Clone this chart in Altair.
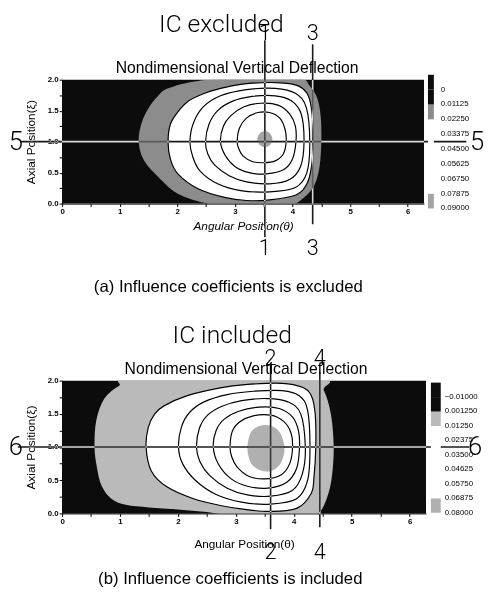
import altair as alt
import pandas as pd

TWO_PI = 6.2832
FONT = "Liberation Sans"
LIGHT = "Roboto"

X_TICKS = [0, 0.5, 1, 1.5, 2, 2.5, 3, 3.5, 4, 4.5, 5, 5.5, 6]
Y_TICKS = [0, 0.25, 0.5, 0.75, 1.0, 1.25, 1.5, 1.75, 2.0]

# ---------------- (a) influence coefficients excluded ----------------
# colour bar: bands of 0.01125, labelled 0 ... 0.09 (one unlabelled band above 0,
# one blank band below 0.09 so that 0.09 becomes a labelled boundary)
A_BAND_EXTENT = [-0.01125, 0.10125]
A_BAND_COLORS = ["#0c0c0c", "#0c0c0c", "#8c8c8c", "#ffffff", "#ffffff",
                 "#ffffff", "#ffffff", "#ffffff", "#a4a4a4", "#ffffff"]
A_VALUES = {"bg": -0.005, "band": 0.017, "plateau": 0.028, "centre": 0.085}
A_BAND = [(1.33, 1.0), (1.38, 1.3), (1.5, 1.54), (1.65, 1.72), (1.84, 1.86), (2.36, 1.98),
          (3.2, 2.03), (4.1, 2.03), (4.3, 1.9), (4.43, 1.7), (4.49, 1.4), (4.5, 1.0),
          (4.47, 0.6), (4.38, 0.3), (4.2, 0.1), (3.9, -0.03), (3.0, -0.03), (2.53, 0.0),
          (2.01, 0.16), (1.67, 0.43), (1.42, 0.7)]
A_C0 = [(1.84, 1.0), (1.88, 1.28), (2.01, 1.48), (2.2, 1.66), (2.5, 1.79), (2.85, 1.88),
        (3.25, 1.94), (3.8, 1.95), (4.1, 1.9), (4.27, 1.75), (4.34, 1.45), (4.36, 1.0),
        (4.33, 0.6), (4.25, 0.32), (4.06, 0.14), (3.6, 0.06), (3.2, 0.05), (2.82, 0.1),
        (2.36, 0.24), (2.01, 0.48), (1.88, 0.72)]
A_C1 = [(2.22, 1.0), (2.28, 1.3), (2.45, 1.56), (2.75, 1.74), (3.2, 1.84), (3.7, 1.86),
        (4.05, 1.78), (4.24, 1.55), (4.3, 1.0), (4.25, 0.5), (4.05, 0.26), (3.6, 0.19),
        (3.1, 0.21), (2.7, 0.32), (2.4, 0.52), (2.27, 0.75)]
A_C2 = [(2.49, 1.0), (2.55, 1.28), (2.7, 1.5), (2.95, 1.65), (3.3, 1.73), (3.7, 1.74),
        (3.98, 1.66), (4.15, 1.45), (4.2, 1.0), (4.14, 0.6), (3.95, 0.39), (3.6, 0.32),
        (3.2, 0.35), (2.9, 0.45), (2.65, 0.62), (2.53, 0.8)]
A_C3 = [(2.75, 1.0), (2.8, 1.25), (2.93, 1.42), (3.15, 1.56), (3.45, 1.62), (3.75, 1.59),
        (3.95, 1.45), (4.05, 1.25), (4.06, 1.0), (4.0, 0.72), (3.85, 0.55), (3.55, 0.48),
        (3.25, 0.5), (3.0, 0.6), (2.83, 0.78)]
A_C4 = [(3.04, 1.0), (3.08, 1.22), (3.2, 1.38), (3.4, 1.47), (3.6, 1.47), (3.78, 1.38),
        (3.87, 1.2), (3.89, 1.0), (3.84, 0.8), (3.7, 0.69), (3.5, 0.66), (3.3, 0.68),
        (3.14, 0.77), (3.07, 0.88)]
A_CENTRE = [(3.39, 1.04), (3.43, 1.13), (3.52, 1.17), (3.61, 1.13), (3.65, 1.04),
            (3.61, 0.95), (3.52, 0.91), (3.43, 0.95)]
A_SECTIONS = ["1", "3"]
A_SECTION_THETA = [3.52, 4.35]
A_SECTION_H = "5"
A_SECTION_XI = 1.0

# ---------------- (b) influence coefficients included ----------------
B_BAND_EXTENT = [-0.02125, 0.09125]
B_BAND_COLORS = ["#0c0c0c", "#0c0c0c", "#bababa", "#ffffff", "#ffffff",
                 "#ffffff", "#ffffff", "#ffffff", "#b0b0b0", "#ffffff"]
B_VALUES = {"bg": -0.015, "band": 0.007, "plateau": 0.02, "centre": 0.075}
B_BAND = [(0.56, 1.0), (0.59, 1.4), (0.73, 1.73), (0.98, 1.92), (1.3, 2.03), (4.35, 2.03),
          (4.52, 1.85), (4.64, 1.5), (4.69, 1.0), (4.65, 0.5), (4.55, 0.18), (4.42, 0.0),
          (4.2, -0.03), (3.0, -0.03), (2.5, 0.02), (2.0, 0.06), (1.5, 0.09), (1.1, 0.13),
          (0.85, 0.22), (0.68, 0.42), (0.6, 0.7)]
B_C0 = [(1.45, 1.0), (1.49, 1.3), (1.6, 1.5), (1.76, 1.62), (2.15, 1.77), (2.73, 1.89),
        (3.16, 1.94), (3.8, 1.96), (4.15, 1.9), (4.3, 1.78), (4.37, 1.5), (4.38, 1.0),
        (4.35, 0.55), (4.3, 0.3), (4.06, 0.08), (3.6, 0.03), (3.16, 0.06), (2.73, 0.12),
        (2.27, 0.22), (1.81, 0.4), (1.54, 0.64)]
B_C1 = [(2.01, 1.0), (2.06, 1.3), (2.2, 1.52), (2.45, 1.68), (2.85, 1.79), (3.3, 1.84),
        (3.8, 1.85), (4.1, 1.77), (4.24, 1.55), (4.28, 1.0), (4.24, 0.5), (4.05, 0.22),
        (3.6, 0.14), (3.1, 0.17), (2.65, 0.29), (2.3, 0.5), (2.08, 0.75)]
B_C2 = [(2.32, 1.0), (2.37, 1.28), (2.5, 1.47), (2.75, 1.61), (3.1, 1.7), (3.55, 1.73),
        (3.9, 1.68), (4.12, 1.5), (4.2, 1.0), (4.15, 0.6), (3.98, 0.35), (3.6, 0.26),
        (3.2, 0.28), (2.85, 0.38), (2.55, 0.57), (2.38, 0.78)]
B_C3 = [(2.61, 1.0), (2.66, 1.25), (2.8, 1.42), (3.05, 1.54), (3.4, 1.6), (3.75, 1.58),
        (3.98, 1.45), (4.08, 1.25), (4.1, 1.0), (4.05, 0.68), (3.88, 0.47), (3.55, 0.38),
        (3.2, 0.41), (2.92, 0.52), (2.7, 0.74)]
B_C4 = [(2.9, 1.0), (2.94, 1.24), (3.07, 1.38), (3.3, 1.47), (3.6, 1.48), (3.82, 1.39),
        (3.95, 1.22), (3.98, 1.0), (3.93, 0.75), (3.78, 0.58), (3.5, 0.52), (3.22, 0.56),
        (3.02, 0.7), (2.93, 0.85)]
B_CENTRE = [(3.2, 0.98), (3.26, 1.22), (3.42, 1.32), (3.6, 1.32), (3.76, 1.22), (3.84, 0.98),
            (3.77, 0.75), (3.6, 0.64), (3.42, 0.65), (3.26, 0.76)]
B_SECTIONS = ["2", "4"]
B_SECTION_THETA = [3.6, 4.45]
B_SECTION_H = "6"
B_SECTION_XI = 1.0


def shape(pts, name, value=0.0):
    # colour field stored negated so that the vertical colour bar runs low-to-high downwards
    return pd.DataFrame({
        "theta": [p[0] for p in pts],
        "xi": [p[1] for p in pts],
        "order": list(range(len(pts))),
        "region": name,
        "nv": -value,
    })


def panel(d, lay):
    xs = alt.Scale(domain=[0, TWO_PI], nice=False, zero=False)
    ys = alt.Scale(domain=[0, 2], nice=False, zero=False)
    xaxis = alt.Axis(values=X_TICKS,
                     labelExpr="datum.value % 1 == 0 ? format(datum.value, 'd') : ''",
                     title="Angular Position(θ)", titleFont=FONT, titleFontSize=12,
                     titleFontWeight="normal", titleFontStyle=lay["xtitle_style"],
                     titlePadding=lay["xtitle_pad"], titleColor="black",
                     labelFont=FONT, labelFontSize=8, labelFontWeight="bold", labelColor="black",
                     labelFlush=False, labelPadding=1, tickSize=3, tickColor="black",
                     domainColor="black", grid=False)
    yaxis = alt.Axis(values=Y_TICKS,
                     labelExpr="datum.value % 0.5 == 0 ? format(datum.value, '.1f') : ''",
                     title="Axial Position(ξ)", titleFont=FONT, titleFontSize=12,
                     titleFontWeight="normal", titlePadding=10, titleColor="black",
                     labelFont=FONT, labelFontSize=8, labelFontWeight="bold", labelColor="black",
                     labelFlush=False, labelPadding=1, tickSize=3, tickColor="black",
                     domainColor="black", grid=False)
    lo, hi = d["extent"]
    fs = alt.Scale(type="quantize", domain=[-hi, -lo], range=d["colors"][::-1], nice=False, zero=False)
    leg = alt.Legend(type="gradient", orient="none", legendX=lay["legend_x"], legendY=lay["legend_y"],
                     direction="vertical", gradientLength=lay["glen"], gradientThickness=lay["gthick"],
                     gradientStrokeWidth=0,
                     labelFont=FONT, labelFontSize=8, labelColor="black", labelOffset=lay["loff"],
                     labelExpr="!isFinite(datum.value) ? '' : " + lay["label_expr"],
                     labelOverlap=False, title=None, padding=0)

    def X(f):
        return alt.X(f, type="quantitative", scale=xs, axis=xaxis)

    def Y(f):
        return alt.Y(f, type="quantitative", scale=ys, axis=yaxis)

    def F():
        return alt.Fill("nv:Q", scale=fs, legend=leg)

    vals = d["values"]
    bg_df = pd.DataFrame({"t0": [0.0], "t1": [TWO_PI], "x0": [0.0], "x1": [2.0], "nv": [-vals["bg"]]})
    layers = [alt.Chart(bg_df).mark_rect().encode(x=X("t0"), x2="t1", y=Y("x0"), y2="x1", fill=F())]

    for key, pts in (("band", d["band"]), ("plateau", d["contours"][0]), ("centre", d["centre"])):
        layers.append(
            alt.Chart(shape(pts, key, vals[key]))
            .mark_line(interpolate="cardinal-closed", clip=True, strokeOpacity=0)
            .encode(x=X("theta"), y=Y("xi"), fill=F(), order="order:Q")
        )

    cont = pd.concat([shape(c, "c%d" % i) for i, c in enumerate(d["contours"])])
    layers.append(
        alt.Chart(cont).mark_line(interpolate="cardinal-closed", clip=True, color="black", strokeWidth=1.2)
        .encode(x=X("theta"), y=Y("xi"), detail="region:N", order="order:Q")
    )

    # section lines (drawn in 'difference' so they are black on white and light on black)
    for lab, th, (y0, y1) in zip(d["sections"], d["section_theta"], lay["vrule"]):
        sdf = pd.DataFrame({"theta": [th], "label": [lab]})
        layers.append(
            alt.Chart(sdf).mark_rule(color="#e6e6e6", blend="difference", strokeWidth=1.6)
            .encode(x=X("theta"), y=alt.value(y0), y2=alt.value(y1))
        )
    hdf = pd.DataFrame({"xi": [d["section_xi"]], "label": [d["section_h"]]})
    layers.append(
        alt.Chart(hdf).mark_rule(color="#e6e6e6", blend="difference", strokeWidth=1.6)
        .encode(y=Y("xi"), x=alt.value(lay["hrule"][0]), x2=alt.value(lay["hrule"][1]))
    )

    # section labels
    sec = pd.DataFrame({"theta": d["section_theta"], "label": d["sections"]})
    for yy in lay["vlabel_y"]:
        layers.append(
            alt.Chart(sec).mark_text(font=LIGHT, fontWeight=300, fontSize=22, align="center",
                                     baseline="alphabetic", color="black")
            .encode(x=X("theta"), y=alt.value(yy), text="label:N")
        )
    for xx in lay["hlabel_x"]:
        layers.append(
            alt.Chart(hdf).mark_text(font=LIGHT, fontWeight=300, fontSize=26, align="center",
                                     baseline="middle", color="black")
            .encode(y=Y("xi"), x=alt.value(xx), text="label:N")
        )

    # titles and caption
    one = pd.DataFrame({"k": [0]})
    for txt, (tx, ty), fnt, fw, fsz in (
        (d["title"], lay["title_pos"], LIGHT, 300, 25),
        ("Nondimensional Vertical Deflection", lay["sub_pos"], FONT, "normal", 16),
        (d["caption"], lay["cap_pos"], FONT, "normal", 17),
    ):
        layers.append(
            alt.Chart(one).mark_text(text=txt, font=fnt, fontWeight=fw, fontSize=fsz, align="center",
                                     baseline="alphabetic", color="black")
            .encode(x=alt.value(tx), y=alt.value(ty))
        )

    return alt.layer(*layers).properties(width=lay["w"], height=lay["h"])


A = dict(extent=A_BAND_EXTENT, colors=A_BAND_COLORS, values=A_VALUES,
         band=A_BAND, contours=[A_C0, A_C1, A_C2, A_C3, A_C4], centre=A_CENTRE,
         sections=A_SECTIONS, section_theta=A_SECTION_THETA, section_h=A_SECTION_H,
         section_xi=A_SECTION_XI, title="IC excluded", caption="(a) Influence coefficients is excluded")
B = dict(extent=B_BAND_EXTENT, colors=B_BAND_COLORS, values=B_VALUES,
         band=B_BAND, contours=[B_C0, B_C1, B_C2, B_C3, B_C4], centre=B_CENTRE,
         sections=B_SECTIONS, section_theta=B_SECTION_THETA, section_h=B_SECTION_H,
         section_xi=B_SECTION_XI, title="IC included", caption="(b) Influence coefficients is included")

LAY_A = dict(w=368, h=126, xtitle_style="italic", xtitle_pad=5,
             legend_x=372, legend_y=-5, glen=151, gthick=6, loff=7,
             label_expr="abs(datum.value) < 0.000001 ? '0' : format(-datum.value, '.5f')",
             vrule=[(-40, 160), (-36, 147)], hrule=(-42, 411),
             vlabel_y=[-40, 178], hlabel_x=[-47, 422],
             title_pos=(162, -48), sub_pos=(178, -7), cap_pos=(169, 216))
LAY_B = dict(w=370, h=135, xtitle_style="normal", xtitle_pad=14,
             legend_x=375, legend_y=2, glen=147, gthick=10, loff=4,
             label_expr="abs(datum.value + 0.00125) < 0.000001 ? '0.001250' : format(-datum.value, '.5f')",
             vrule=[(-18, 151), (-9, 149)], hrule=(-45, 414),
             vlabel_y=[-16, 181], hlabel_x=[-47, 420],
             title_pos=(173, -38), sub_pos=(187, -7), cap_pos=(171, 207))

chart = (
    alt.vconcat(panel(A, LAY_A), panel(B, LAY_B), spacing=180, bounds="flush")
    .resolve_scale(x="independent", y="independent", fill="independent")
    .properties(padding={"left": 0, "top": 0, "right": 0, "bottom": 0}, background="white")
    .configure_view(strokeWidth=0)
)

chart.save("out.html", embed_options={"renderer": "svg", "actions": False})
